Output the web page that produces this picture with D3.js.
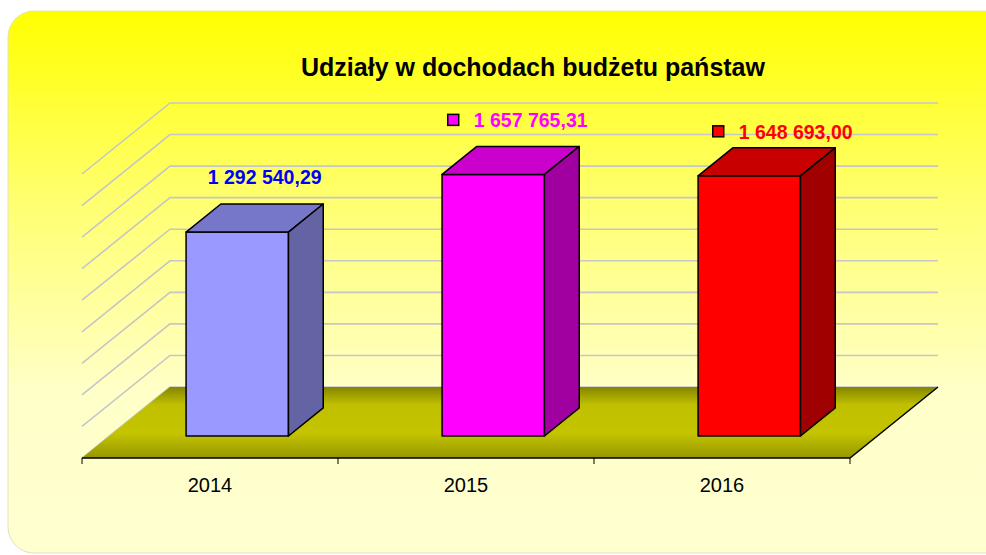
<!DOCTYPE html>
<html><head><meta charset="utf-8">
<script src="https://cdn.jsdelivr.net/npm/d3@7"></script>
<style>html,body{margin:0;padding:0;background:#fff;}svg{display:block;}</style>
</head><body>
<svg id="c" width="986" height="555"></svg>
<script>
// ---- data ----
const title = "Udziały w dochodach budżetu państaw";
const categories = ["2014", "2015", "2016"];
const values = [1292540.29, 1657765.31, 1648693.00];
const valueLabels = ["1 292 540,29", "1 657 765,31", "1 648 693,00"];
const showKey = [false, true, true];
const valueTicks = [0, 200000, 400000, 600000, 800000, 1000000, 1200000, 1400000, 1600000, 1800000];

// ---- styles ----
const frontColors = ["#9999ff", "#ff00ff", "#ff0000"];
const topColors   = ["#7777c9", "#cc00cc", "#c80000"];
const sideColors  = ["#6464a4", "#a000a0", "#a00000"];
const labelColors = ["#0000ff", "#ff00ff", "#ff0000"];
const labelNudgeX = [-1, -4, 5];
const labelNudgeY = [0, 1, 11];

const svg = d3.select("#c");
const defs = svg.append("defs");
const bg = defs.append("linearGradient").attr("id","bg").attr("x1",0).attr("y1",0).attr("x2",0).attr("y2",1);
bg.append("stop").attr("offset","0").attr("stop-color","#ffff00");
bg.append("stop").attr("offset","0.35").attr("stop-color","#ffff70");
bg.append("stop").attr("offset","0.7").attr("stop-color","#ffffc8");
bg.append("stop").attr("offset","1").attr("stop-color","#ffffd2");
const fl = defs.append("linearGradient").attr("id","floor").attr("x1",0).attr("y1",0).attr("x2",0).attr("y2",1);
fl.append("stop").attr("offset","0").attr("stop-color","#858500");
fl.append("stop").attr("offset","0.25").attr("stop-color","#c0c000");
fl.append("stop").attr("offset","0.65").attr("stop-color","#c4c400");
fl.append("stop").attr("offset","1").attr("stop-color","#969600");

svg.append("rect").attr("x",8).attr("y",11).attr("width",1010).attr("height",542)
  .attr("rx",26).attr("ry",26).attr("fill","url(#bg)").attr("stroke","#e2e2b8").attr("stroke-width",1);

// ---- geometry ----
const x0 = 82, x1 = 850, yFloor = 458;
const depthX = 88, depthY = 71;
const x = d3.scaleBand().domain(categories).range([x0, x1]).paddingInner(0).paddingOuter(0);
const h = d3.scaleLinear().domain([0, 1800000]).range([0, 284]);
const P = (sx, v, z) => [sx + z * depthX, yFloor - z * depthY - h(v)];

// gridlines (left wall + back wall)
const grid = svg.append("g").attr("stroke","#c6c6c6").attr("stroke-width",1.6).attr("fill","none");
valueTicks.forEach(v => {
  const a = P(x0, v, 0), b = P(x0, v, 1), c = P(x1, v, 1);
  grid.append("polyline").attr("points", [a, b, c].map(p => p.join(",")).join(" "));
});

// floor
const fpts = [P(x0,0,0), P(x1,0,0), P(x1,0,1), P(x0,0,1)];
svg.append("polygon").attr("points", fpts.map(p=>p.join(",")).join(" ")).attr("fill","url(#floor)");
svg.append("polyline").attr("points", [P(x0,0,0), P(x1,0,0), P(x1,0,1)].map(p=>p.join(",")).join(" "))
  .attr("fill","none").attr("stroke","#000").attr("stroke-width",1.5);

// x axis ticks
const tickXs = categories.map(c => x(c)).concat([x1]);
svg.append("g").selectAll("line").data(tickXs).join("line")
  .attr("x1", d=>d).attr("x2", d=>d).attr("y1", yFloor).attr("y2", yFloor+6)
  .attr("stroke","#000").attr("stroke-width",1);

// category labels
svg.append("g").selectAll("text").data(categories).join("text")
  .attr("x", d => x(d) + x.bandwidth()/2).attr("y", 492)
  .attr("text-anchor","middle").attr("font-family","Liberation Sans, Arial, sans-serif")
  .attr("font-size",20).attr("fill","#000").text(d=>d);

// bars
const zA = 0.31, zB = 0.705, barFrac = 0.4;
const bars = svg.append("g").attr("stroke","#000").attr("stroke-width",1.5).attr("stroke-linejoin","round");
categories.forEach((c, i) => {
  const bw = x.bandwidth() * barFrac;
  const L = x(c) + x.bandwidth()/2 - bw/2, R = L + bw, v = values[i];
  const poly = (pts, fill) => bars.append("polygon").attr("points", pts.map(p=>p.join(",")).join(" ")).attr("fill", fill);
  poly([P(L,0,zA), P(R,0,zA), P(R,v,zA), P(L,v,zA)], frontColors[i]);
  poly([P(L,v,zA), P(R,v,zA), P(R,v,zB), P(L,v,zB)], topColors[i]);
  poly([P(R,0,zA), P(R,0,zB), P(R,v,zB), P(R,v,zA)], sideColors[i]);
});

// value labels (key + text centred as one group)
const lab = svg.append("g");
categories.forEach((c, i) => {
  const gc = x(c) + x.bandwidth()/2 + (zA+zB)/2*depthX + 11 + labelNudgeX[i];
  const top = P(0, values[i], zB)[1];
  const cy = top - 27 + labelNudgeY[i];
  const t = lab.append("text").attr("y", cy + 7)
    .attr("font-family","Liberation Sans, Arial, sans-serif")
    .attr("font-weight","bold").attr("font-size",19.5).attr("fill", labelColors[i]).text(valueLabels[i]);
  const w = t.node().getComputedTextLength();
  const keyW = showKey[i] ? 26 : 0;
  const left = gc - (w + keyW)/2;
  t.attr("x", left + keyW);
  if (showKey[i]) {
    lab.append("rect").attr("x", left).attr("y", cy - 6).attr("width", 11).attr("height", 11)
      .attr("fill", frontColors[i]).attr("stroke","#000").attr("stroke-width",1.5);
  }
});

// title
svg.append("text").attr("x", 533).attr("y", 76).attr("text-anchor","middle")
  .attr("font-family","Liberation Sans, Arial, sans-serif").attr("font-weight","bold")
  .attr("font-size",25).attr("fill","#000").text(title);
</script>
</body></html>
